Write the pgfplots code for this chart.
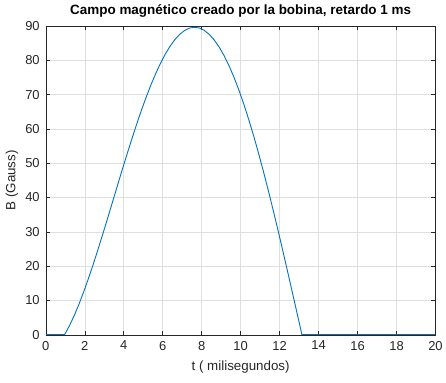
\documentclass[border=0pt]{standalone}
\usepackage{pgfplots}
\pgfplotsset{compat=1.18}
\usepackage{fontspec}
\setmainfont{Liberation Sans}
\definecolor{mblue}{HTML}{0072BD}
\definecolor{axgray}{HTML}{262626}
\definecolor{gridgray}{HTML}{DFDFDF}
\begin{document}
\begin{tikzpicture}
\begin{axis}[
 scale only axis, width=391pt, height=310pt,
 xmin=0,xmax=20,ymin=0,ymax=90,
 xtick={0,2,...,20}, ytick={0,10,...,90},
 grid=major, major grid style={gridgray, line width=0.6pt},
 axis line style={axgray, line width=0.6pt},
 tick style={axgray, line width=0.6pt},
 tick align=inside, major tick length=4pt,
 ticklabel style={font=\fontsize{13}{15}\selectfont, text=axgray},
 xticklabel style={inner ysep=0pt, yshift=-6pt},
 yticklabel style={inner xsep=0pt, xshift=-6pt},
 /pgf/number format/assume math mode=true,
 title={\bfseries Campo magnético creado por la bobina, retardo 1 ms},
 title style={font=\fontsize{13.5}{16}\selectfont, at={(axis description cs:0.5,1.0161)}, anchor=base},
 xlabel={t ( milisegundos)}, ylabel={B (Gauss)},
 label style={font=\fontsize{13.4}{16}\selectfont, text=axgray},
 xlabel style={at={(axis description cs:0.5,-0.1161)}, anchor=base},
 ylabel style={at={(axis description cs:-0.087,0.5)}, anchor=center},
]
\addplot[mblue, line width=0.9pt] coordinates {(0,0) (0.96,0)};
\addplot[mblue, line width=0.9pt] coordinates {
(0.96,0) (1.205,2.57) (1.45,5.53) (1.695,8.84) (1.94,12.47) (2.185,16.38)
(2.431,20.52) (2.676,24.84) (2.921,29.31) (3.167,33.88) (3.413,38.52)
(3.658,43.16) (3.904,47.78) (4.151,52.33) (4.397,56.77) (4.644,61.06)
(4.891,65.18) (5.139,69.07) (5.387,72.71) (5.635,76.06) (5.883,79.09)
(6.132,81.79) (6.381,84.11) (6.63,86.06) (6.88,87.59) (7.13,88.70)
(7.381,89.38) (7.631,89.60) (7.882,89.38) (8.133,88.70) (8.385,87.55)
(8.637,85.95) (8.889,83.91) (9.142,81.42) (9.395,78.51) (9.648,75.16)
(9.901,71.44) (10.155,67.32) (10.409,62.84) (10.663,58.04) (10.917,52.93)
(11.172,47.53) (11.426,41.90) (11.681,36.05) (11.936,30.01) (12.191,23.84)
(12.446,17.54) (12.701,11.18) (12.956,4.79) (13.147,0)};
\addplot[mblue, line width=0.9pt] coordinates {(13.147,0) (20,0)};
\end{axis}
\path (current axis.south west) ++(-46pt,-48pt);
\path (current axis.north east) ++(9pt,26pt);
\end{tikzpicture}
\end{document}
